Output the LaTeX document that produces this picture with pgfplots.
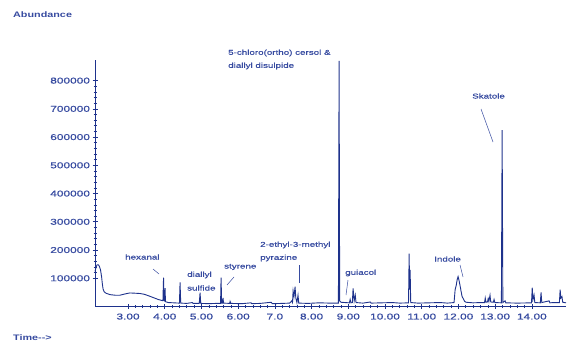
\documentclass[border=0pt]{standalone}
\usepackage{pgfplots}
\pgfplotsset{compat=1.18}
\usepackage{fontspec}
\setmainfont{Liberation Sans}
\newfontfamily\wide[FakeStretch=1.4,FakeBold=0.7]{Liberation Sans}
\newfontfamily\wideb[FakeStretch=1.35]{Liberation Sans}
\definecolor{cb}{RGB}{30,50,140}
\definecolor{ct}{RGB}{55,75,160}
\begin{document}
\begin{tikzpicture}
\path[use as bounding box] (0pt,0pt) rectangle (569pt,343pt);
\begin{axis}[
  at={(95pt,36.5pt)}, anchor=origin, scale only axis,
  width=471pt, height=246.5pt,
  xmin=2.10, xmax=14.93, ymin=0, ymax=873000,
  axis lines=left, axis line style={cb, line width=0.8pt, -},
  clip=false, scaled y ticks=false,
  xtick={3,4,5,6,7,8,9,10,11,12,13,14},
  xticklabels={3.00,4.00,5.00,6.00,7.0,8.00,9.00,10.00,11.00,12.00,13.00,14.00},
  minor x tick num=4,
  ytick={100000,200000,300000,400000,500000,600000,700000,800000},
  yticklabels={100000,200000,300000,400000,500000,600000,700000,800000},
  minor y tick num=4,
  tick align=center,
  major tick length=5pt, minor tick length=3pt,
  every tick/.style={cb, line width=0.6pt},
  tick label style={ct, font=\wide\fontsize{8.5}{10}\selectfont},
  y tick label style={xshift=1pt},
  x tick label style={yshift=-1pt},
]
\addplot[cb, line width=0.9pt] coordinates {
(2.10,124000)(2.13,140000)(2.16,148000)(2.19,148000)(2.22,142000)(2.25,130000)(2.28,105000)(2.30,80000)(2.32,62000)(2.35,52000)(2.40,47000)(2.51,42000)(2.65,40000)(2.78,40000)(2.90,44000)(3.05,48000)(3.20,47000)(3.33,46000)(3.45,43000)(3.60,36000)(3.72,30000)(3.82,25000)(3.93,21000)(3.95,21000)(3.967,102000)(3.98,22000)(3.995,20000)(4.008,65000)(4.02,17000)(4.10,14000)(4.25,13000)(4.40,12000)(4.417,85000)(4.435,12000)(4.6,11000)(4.75,14000)(4.77,11000)(4.94,11000)(4.962,49000)(4.98,11000)(5.2,10000)(5.4,11000)(5.52,11000)(5.534,102000)(5.55,12000)(5.575,12000)(5.589,30000)(5.60,12000)(5.77,11000)(5.78,18000)(5.80,11000)(6.1,10000)(6.35,13000)(6.37,10000)(6.6,11000)(6.9,15000)(6.93,10000)(7.2,11000)(7.40,12000)(7.46,20000)(7.48,14000)(7.496,55000)(7.52,35000)(7.55,70000)(7.57,30000)(7.60,14000)(7.63,40000)(7.65,12000)(7.9,11000)(8.2,13000)(8.5,12000)(8.73,12000)(8.749,870000)(8.765,20000)(8.80,15000)(9.03,13000)(9.05,25000)(9.07,13000)(9.11,14000)(9.13,64000)(9.16,20000)(9.19,40000)(9.21,14000)(9.4,12000)(9.6,16000)(9.62,12000)(9.9,13000)(10.2,14000)(10.4,12000)(10.64,13000)(10.657,187000)(10.67,60000)(10.684,130000)(10.70,14000)(10.9,12000)(11.2,13000)(11.5,14000)(11.7,12000)(11.88,14000)(11.91,60000)(11.94,75000)(11.965,95000)(11.99,106000)(12.02,90000)(12.05,70000)(12.07,55000)(12.10,35000)(12.13,28000)(12.17,18000)(12.21,15000)(12.4,13000)(12.6,14000)(12.71,14000)(12.73,30000)(12.75,15000)(12.79,16000)(12.81,28000)(12.83,18000)(12.86,40000)(12.88,16000)(12.95,15000)(12.97,25000)(12.99,14000)(13.17,13000)(13.19,625000)(13.21,14000)(13.27,20000)(13.29,13000)(13.6,12000)(13.99,13000)(14.01,67000)(14.03,25000)(14.06,40000)(14.08,14000)(14.23,13000)(14.25,50000)(14.27,14000)(14.47,20000)(14.49,13000)(14.6,14000)(14.75,14000)(14.77,60000)(14.79,30000)(14.82,35000)(14.84,15000)(14.93,13000)
};
\end{axis}
\tikzset{lab/.style={ct, font=\wide\fontsize{7}{8}\selectfont, anchor=west, inner sep=0pt}}
\node[ct, font=\wideb\bfseries\fontsize{8}{9}\selectfont, anchor=west, inner sep=0pt] at (13pt,328pt) {Abundance};
\node[ct, font=\wideb\bfseries\fontsize{8}{9}\selectfont, anchor=west, inner sep=0pt] at (13pt,5pt) {Time-->};
\node[lab] at (228pt,290pt) {5-chloro(ortho) cersol \&};
\node[lab] at (228pt,277pt) {diallyl disulpide};
\node[lab] at (125pt,86pt) {hexanal};
\draw[ct, line width=0.5pt] (153pt,74pt) -- (159pt,69pt);
\node[lab] at (187pt,68pt) {diallyl};
\node[lab] at (187pt,55pt) {sulfide};
\node[lab] at (224pt,76pt) {styrene};
\draw[ct, line width=0.5pt] (234pt,66pt) -- (227pt,58pt);
\node[lab] at (260pt,98pt) {2-ethyl-3-methyl};
\node[lab] at (260pt,85pt) {pyrazine};
\draw[ct, line width=0.5pt] (299pt,78pt) -- (299pt,60pt);
\node[lab] at (345pt,70pt) {guiacol};
\draw[ct, line width=0.5pt] (348pt,63pt) -- (346pt,48pt);
\node[lab] at (434pt,84pt) {Indole};
\draw[ct, line width=0.5pt] (460pt,78pt) -- (463pt,66pt);
\node[lab] at (472pt,247pt) {Skatole};
\draw[ct, line width=0.5pt] (481pt,234pt) -- (493pt,201pt);
\end{tikzpicture}
\end{document}
